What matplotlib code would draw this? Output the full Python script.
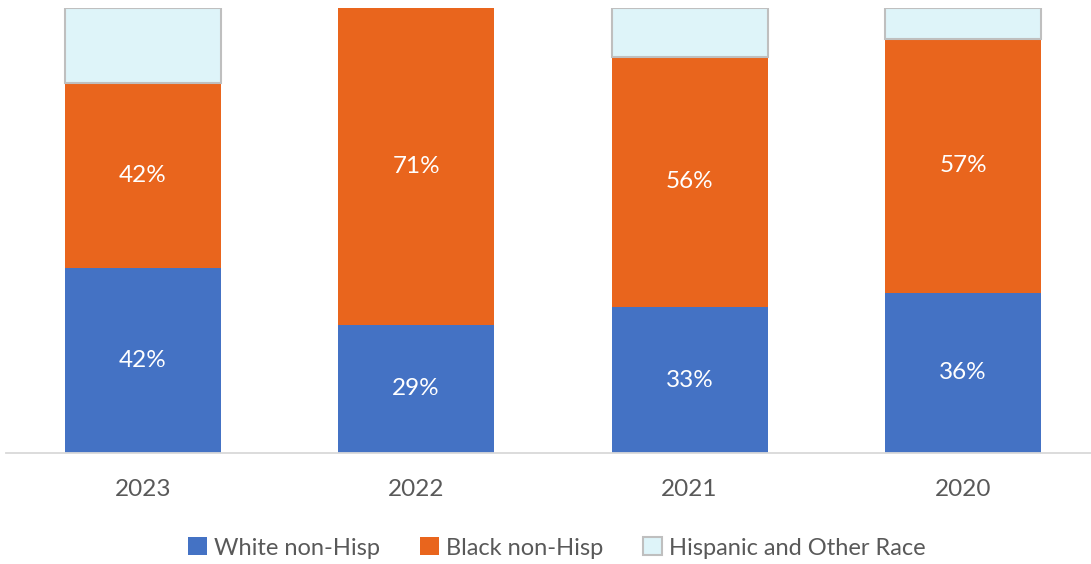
import matplotlib
matplotlib.use("Agg")
import matplotlib.pyplot as plt
import numpy as np

years = ["2023", "2022", "2021", "2020"]
white = [41.6, 28.8, 32.8, 36.0]
black = [41.6, 71.2, 56.2, 57.0]
hispanic = [16.8, 0.0, 11.0, 7.0]
series_names = ["White non-Hisp", "Black non-Hisp", "Hispanic and Other Race"]

plt.rcParams['font.family'] = ['Lato', 'DejaVu Sans']
text_color = "#595959"

fig = plt.figure(figsize=(10.91, 5.64), dpi=100)
ax = fig.add_axes([6/1091, 111/564, 1085/1091, 445/564])

x = np.arange(len(years))
w = 0.57
b1 = ax.bar(x, white, w, color="#4472C4", label=series_names[0])
b2 = ax.bar(x, black, w, bottom=white, color="#E9651D", label=series_names[1])
bottom2 = np.array(white) + np.array(black)
b3 = ax.bar(x, hispanic, w, bottom=bottom2, color="#DEF4F9", edgecolor="#BFBFBF",
            linewidth=1.5, label=series_names[2])
for patch, v in zip(b3.patches, hispanic):
    if v == 0:
        patch.set_linewidth(0)

for i in range(len(years)):
    ax.text(x[i], white[i] / 2, f"{white[i]:.0f}%", ha="center", va="center",
            color="white", fontsize=17.5)
    ax.text(x[i], white[i] + black[i] / 2, f"{black[i]:.0f}%", ha="center", va="center",
            color="white", fontsize=17.5)

ax.set_xlim(-0.5, 3.468)
ax.set_ylim(0, 100)
ax.set_yticks([])
ax.set_xticks(x)
ax.set_xticklabels(years, fontsize=17.5, color=text_color)
ax.tick_params(axis="x", length=0, pad=19)
for s in ["top", "right", "left"]:
    ax.spines[s].set_visible(False)
ax.spines["bottom"].set_color("#D9D9D9")
ax.spines["bottom"].set_linewidth(1.3)

fig.legend(handles=[b1, b2, b3], labels=series_names, loc="center",
           bbox_to_anchor=(557/1091, 1 - 548/564), ncol=3, frameon=False,
           fontsize=17, labelcolor=text_color, handlelength=0.8, handleheight=0.8,
           handletextpad=0.3, columnspacing=1.7)

fig.savefig("out.png", dpi=100)
